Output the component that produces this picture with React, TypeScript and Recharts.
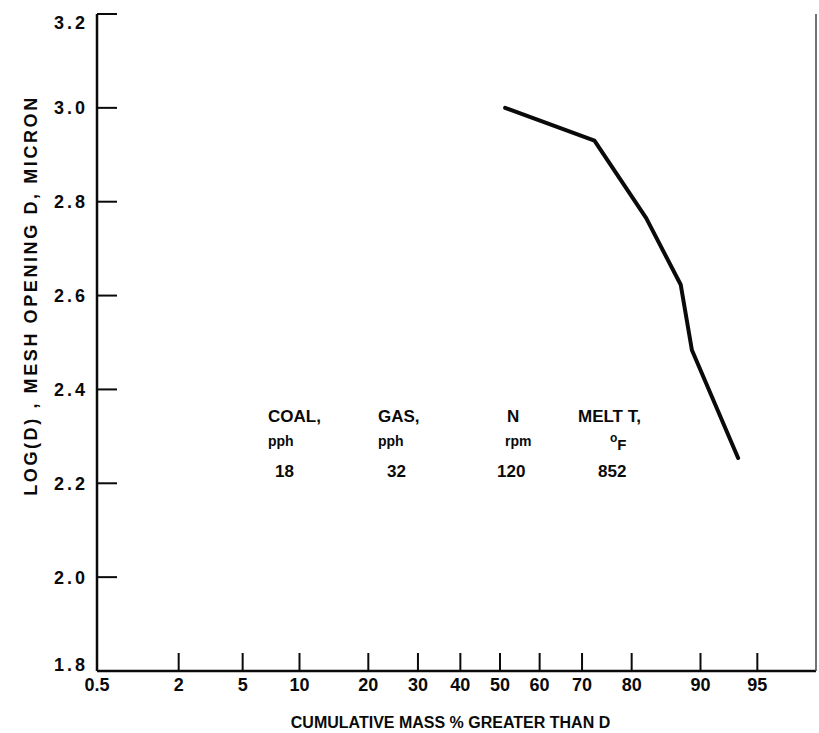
import React from 'react';
import { LineChart, Line, XAxis, YAxis } from 'recharts';

// ---- data ----
const cumulativePct = [51.3, 72.7, 82.5, 87.6, 89.0, 93.6];
const logD = [3.0, 2.93, 2.765, 2.623, 2.484, 2.254];

const xTickPct = [0.5, 2, 5, 10, 20, 30, 40, 50, 60, 70, 80, 90, 95];
const xTickLabels = ['0.5', '2', '5', '10', '20', '30', '40', '50', '60', '70', '80', '90', '95'];
const xMaxPct = 97.83;
const yTicks = [1.8, 2.0, 2.2, 2.4, 2.6, 2.8, 3.0, 3.2];
const yRightTicks = [2.0, 2.2, 2.4, 2.6, 2.8, 3.0];

const annotationHeads = ['COAL,', 'GAS,', 'N', 'MELT T,'];
const annotationUnits = ['pph', 'pph', 'rpm', 'F'];
const annotationValues = ['18', '32', '120', '852'];

// inverse normal CDF (probability-paper scale)
function probit(p: number): number {
  const a = [-3.969683028665376e1, 2.209460984245205e2, -2.759285104469687e2, 1.38357751867269e2, -3.066479806614716e1, 2.506628277459239];
  const b = [-5.447609879822406e1, 1.615858368580409e2, -1.556989798598866e2, 6.680131188771972e1, -1.328068155288572e1];
  const c = [-7.784894002430293e-3, -3.223964580411365e-1, -2.400758277161838, -2.549732539343734, 4.374664141464968, 2.938163982698783];
  const d = [7.784695709041462e-3, 3.224671290700398e-1, 2.445134137142996, 3.754408661907416];
  const plow = 0.02425;
  const phigh = 1 - plow;
  if (p < plow) {
    const q = Math.sqrt(-2 * Math.log(p));
    return (((((c[0] * q + c[1]) * q + c[2]) * q + c[3]) * q + c[4]) * q + c[5]) / ((((d[0] * q + d[1]) * q + d[2]) * q + d[3]) * q + 1);
  }
  if (p <= phigh) {
    const q = p - 0.5;
    const r = q * q;
    return ((((((a[0] * r + a[1]) * r + a[2]) * r + a[3]) * r + a[4]) * r + a[5]) * q) / (((((b[0] * r + b[1]) * r + b[2]) * r + b[3]) * r + b[4]) * r + 1);
  }
  const q = Math.sqrt(-2 * Math.log(1 - p));
  return -(((((c[0] * q + c[1]) * q + c[2]) * q + c[3]) * q + c[4]) * q + c[5]) / ((((d[0] * q + d[1]) * q + d[2]) * q + d[3]) * q + 1);
}

const data = cumulativePct.map((p, i) => ({ z: probit(p / 100), y: logD[i] }));
const xTicks = xTickPct.map((p) => probit(p / 100));
const xDomain = [probit(0.005), probit(xMaxPct / 100)];

const FONT = '"Liberation Sans", Arial, Helvetica, sans-serif';
const INK = '#0a0a0a';

const colX = [268, 378, 507, 578];
const unitX = [268, 378, 505, 620];
const valX = [275, 387, 497, 598];

const YTick = (props: any) => {
  const { x, y, payload } = props;
  const v = payload.value as number;
  const nudge = v >= 3.19 ? 9 : v <= 1.81 ? -6 : 0;
  return (
    <text
      x={x}
      y={y + nudge}
      dy="0.355em"
      textAnchor="end"
      fill={INK}
      fontSize={18}
      fontWeight="bold"
      fontFamily={FONT}
      letterSpacing={3}
    >
      {v.toFixed(1)}
    </text>
  );
};

export default function App() {
  return (
    <div style={{ position: 'relative', width: 819, height: 733, background: '#fff' }}>
      <style>{'body{margin:0;background:#fff}'}</style>
      <LineChart width={819} height={733} data={data} margin={{ top: 14, right: 0, bottom: 0, left: 0 }}>
        <XAxis
          xAxisId="bottom"
          dataKey="z"
          type="number"
          domain={xDomain}
          allowDataOverflow
          ticks={xTicks}
          interval={0}
          height={62}
          tickFormatter={(_v: number, i: number) => xTickLabels[i]}
          tickSize={-18}
          tickMargin={25}
          axisLine={{ stroke: INK, strokeWidth: 2.5 }}
          tickLine={{ stroke: INK, strokeWidth: 2 }}
          tick={{ fill: INK, fontSize: 18, fontWeight: 'bold', fontFamily: FONT }}
          label={{
            value: 'CUMULATIVE MASS % GREATER THAN D',
            position: 'insideBottom',
            offset: 5,
            dx: -6,
            style: { fill: INK, fontSize: 16, fontWeight: 'bold', fontFamily: FONT },
          }}
        />
        <XAxis
          xAxisId="top"
          orientation="top"
          dataKey="z"
          type="number"
          domain={xDomain}
          allowDataOverflow
          ticks={xTicks}
          interval={0}
          height={0}
          tick={false}
          tickSize={-22}
          axisLine={{ stroke: INK, strokeWidth: 3 }}
          tickLine={{ stroke: INK, strokeWidth: 2 }}
        />
        <YAxis
          yAxisId="left"
          type="number"
          domain={[1.8, 3.2]}
          allowDataOverflow
          ticks={yTicks}
          interval={0}
          width={97}
          tickSize={-20}
          tickMargin={29}
          axisLine={{ stroke: INK, strokeWidth: 2.5 }}
          tickLine={{ stroke: INK, strokeWidth: 2 }}
          tick={<YTick />}
          label={{
            value: 'LOG(D) , MESH OPENING D, MICRON',
            angle: -90,
            position: 'center',
            dx: -18,
            dy: -47,
            style: { fill: INK, fontSize: 18, fontWeight: 'bold', fontFamily: FONT, letterSpacing: 2.6, textAnchor: 'middle' },
          }}
        />
        <YAxis
          yAxisId="right"
          orientation="right"
          type="number"
          domain={[1.8, 3.2]}
          allowDataOverflow
          ticks={yRightTicks}
          interval={0}
          width={3}
          tick={false}
          tickSize={-15}
          axisLine={{ stroke: '#444', strokeWidth: 1.5 }}
          tickLine={{ stroke: INK, strokeWidth: 2 }}
        />
        <Line
          xAxisId="bottom"
          yAxisId="left"
          type="linear"
          dataKey="y"
          stroke={INK}
          strokeWidth={4}
          strokeLinecap="round"
          strokeLinejoin="round"
          dot={false}
          isAnimationActive={false}
        />
      </LineChart>
      <svg
        width={819}
        height={733}
        style={{ position: 'absolute', left: 0, top: 0, pointerEvents: 'none' }}
        fontFamily={FONT}
        fontWeight="bold"
        fill={INK}
      >
        {annotationHeads.map((t, i) => (
          <text key={'h' + i} x={colX[i]} y={422} fontSize={17}>
            {t}
          </text>
        ))}
        {annotationUnits.map((t, i) =>
          i === 3 ? (
            <text key={'u' + i} x={unitX[i] - 10} y={450} fontSize={15}>
              <tspan fontSize={12} dy={-8}>o</tspan>
              <tspan dy={8}>{t}</tspan>
            </text>
          ) : (
            <text key={'u' + i} x={unitX[i]} y={446} fontSize={14}>
              {t}
            </text>
          )
        )}
        {annotationValues.map((t, i) => (
          <text key={'v' + i} x={valX[i]} y={477} fontSize={17}>
            {t}
          </text>
        ))}
      </svg>
    </div>
  );
}
